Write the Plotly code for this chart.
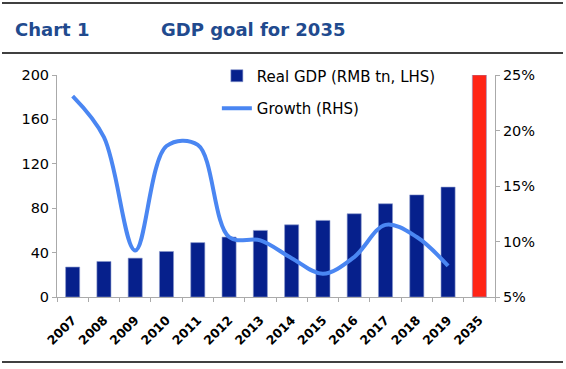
import plotly.graph_objects as go

years = ["2007", "2008", "2009", "2010", "2011", "2012", "2013",
         "2014", "2015", "2016", "2017", "2018", "2019", "2035"]
real_gdp = [27, 32, 35, 41, 49, 54, 60, 65, 69, 75, 84, 92, 99, 200]
growth_years = years[:13]
growth = [23.1, 19.4, 9.2, 18.6, 18.7, 10.4, 10.1, 8.5, 7.1, 8.6, 11.5, 10.4, 7.8]

left_ticks = [0, 40, 80, 120, 160, 200]
right_ticks = [5, 10, 15, 20, 25]
right_labels = ["5%", "10%", "15%", "20%", "25%"]

NAVY = "#06208C"
RED = "#FF2416"
LINE = "#4A86F2"
TITLE = "#214A8E"
FONT = "DejaVu Sans, Verdana, sans-serif"

bar_colors = [RED if y == "2035" else NAVY for y in years]

fig = go.Figure()
fig.add_trace(go.Bar(
    x=years, y=real_gdp, name="Real GDP (RMB tn, LHS)",
    marker=dict(color=bar_colors, line=dict(color="#8a98cc", width=0.6)),
    legendgroup="a", yaxis="y",
))
fig.add_trace(go.Scatter(
    x=growth_years, y=growth, name="Growth (RHS)", mode="lines",
    line=dict(color=LINE, width=4, shape="spline", smoothing=1.0),
    legendgroup="b", yaxis="y2",
))

fig.update_layout(
    width=566, height=369,
    margin=dict(l=57, r=71, t=75, b=72),
    paper_bgcolor="white", plot_bgcolor="white",
    font=dict(family=FONT, size=15, color="black"),
    bargap=0.55,
    showlegend=True,
    legend=dict(x=0.365, y=1.07, xanchor="left", yanchor="top",
                bgcolor="rgba(0,0,0,0)", font=dict(size=15),
                traceorder="grouped", tracegroupgap=10),
    xaxis=dict(type="category", categoryorder="array", categoryarray=years,
               tickangle=-45, tickfont=dict(size=12.5, family="DejaVu Sans", weight="bold"),
               ticklabelstandoff=10,
               showline=True, linecolor="#aaaaaa", linewidth=1,
               ticks="outside", ticklen=4, tickcolor="#aaaaaa",
               tickson="boundaries", showgrid=False, zeroline=False),
    yaxis=dict(range=[0, 200], tickvals=left_ticks, showgrid=False, zeroline=False,
               showline=True, linecolor="#aaaaaa", linewidth=1,
               ticks="outside", ticklen=4, tickcolor="#aaaaaa",
               tickfont=dict(size=14.5)),
    yaxis2=dict(range=[5, 25], tickvals=right_ticks, ticktext=right_labels,
                overlaying="y", side="right", showgrid=False, zeroline=False,
                showline=True, linecolor="#aaaaaa", linewidth=1,
                ticks="outside", ticklen=4, tickcolor="#aaaaaa",
                tickfont=dict(size=14.5)),
)

# header/footer rules
for yv in [1.3243, 1.0991, -0.2928]:
    fig.add_shape(type="line", xref="paper", yref="paper",
                  x0=-0.1256, x1=1.1553, y0=yv, y1=yv,
                  line=dict(color="black", width=1.5))

fig.add_annotation(text="<b>Chart 1</b>", xref="paper", yref="paper",
                   x=-0.1005, y=1.2072, xanchor="left", yanchor="middle",
                   showarrow=False, font=dict(size=18, color=TITLE, family=FONT))
fig.add_annotation(text="<b>GDP goal for 2035</b>", xref="paper", yref="paper",
                   x=0.2329, y=1.2072, xanchor="left", yanchor="middle",
                   showarrow=False, font=dict(size=18, color=TITLE, family=FONT))

fig.write_html("out.html", config={"displayModeBar": False},
               post_script="document.body.style.margin='0';")
